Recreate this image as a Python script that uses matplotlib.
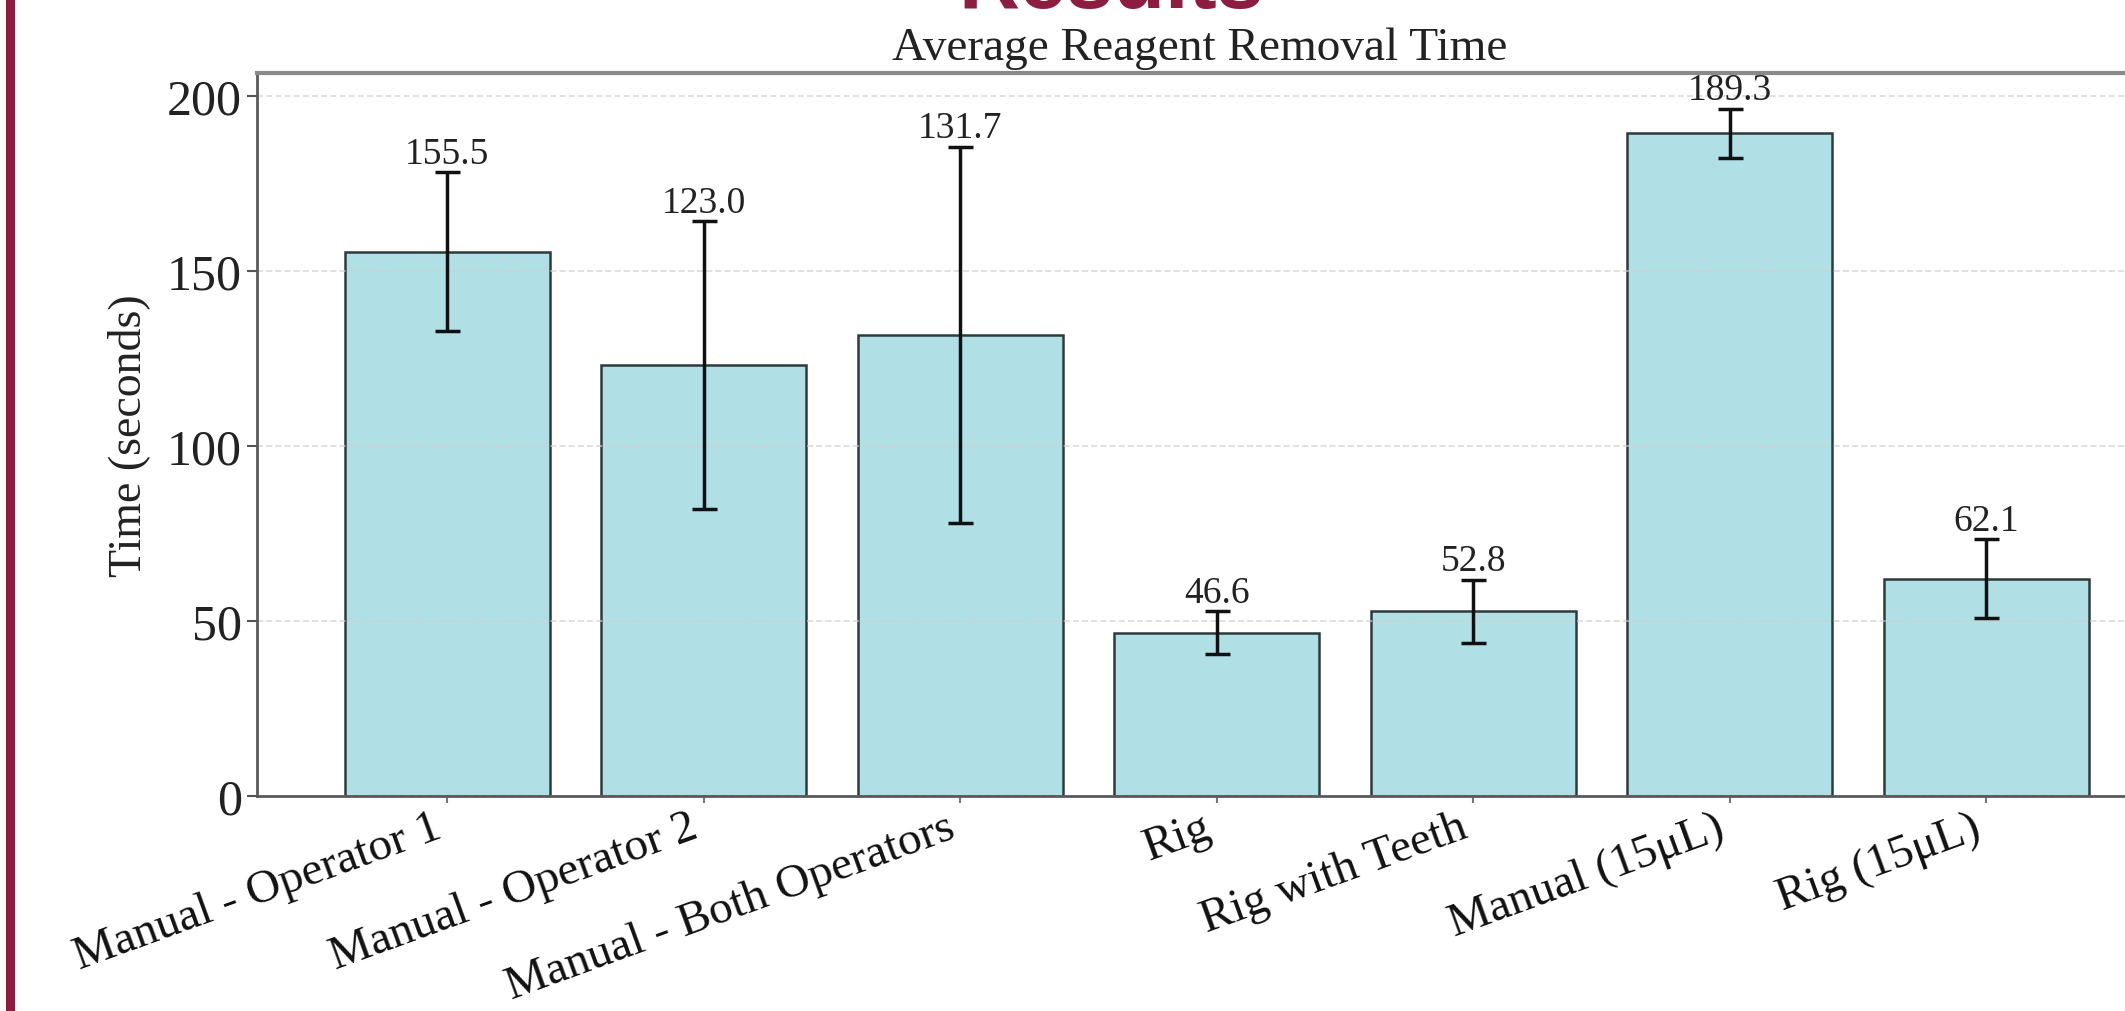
import matplotlib
matplotlib.use('Agg')
import matplotlib.pyplot as plt
from matplotlib.patches import Rectangle

categories = ['Manual - Operator 1', 'Manual - Operator 2', 'Manual - Both Operators',
              'Rig', 'Rig with Teeth', 'Manual (15μL)', 'Rig (15μL)']
means = [155.5, 123.0, 131.7, 46.6, 52.8, 189.3, 62.1]
errors = [22.6, 41.1, 53.7, 6.1, 9.0, 7.0, 11.2]
yticks = [0, 50, 100, 150, 200]

plt.rcParams['font.family'] = ['Liberation Serif', 'DejaVu Serif']

fig = plt.figure(figsize=(21.25, 10.12), dpi=100)
fig.patch.set_facecolor('white')

# poster frame decorations
fig.patches.append(Rectangle((0.0027, 0), 0.0045, 1, transform=fig.transFigure,
                             facecolor='#8c1d40', edgecolor='none', zorder=5))
fig.text(0.523, 0.992, 'Results', color='#8c1d40', fontsize=61, fontweight='bold',
         family=['Liberation Sans', 'DejaVu Sans'], ha='center', va='baseline')

ax = fig.add_axes([0.1211, 0.2125, 0.903, 0.714])
x = list(range(len(categories)))
ax.bar(x, means, width=0.8, color='#b0dfe5', edgecolor='#2e3a3c', linewidth=1.8,
       yerr=errors, capsize=9,
       error_kw=dict(ecolor='#111111', elinewidth=2.5, capthick=2.5))
for xi, m, e in zip(x, means, errors):
    ax.annotate(f'{m:.1f}', xy=(xi, m + e), xytext=(0, 7), textcoords='offset points',
                ha='center', va='baseline', fontsize=27, color='#222222')

ax.set_xlim(-0.74, 6.74)
ax.set_ylim(0, 206.4)
ax.set_yticks(yticks)
ax.set_yticklabels([str(t) for t in yticks], fontsize=36, color='#222222')
ax.set_xticks(x)
ax.set_xticklabels(categories, rotation=20, ha='right', fontsize=34, color='#111111')
ax.tick_params(axis='y', length=7, width=1.5, color='#555555', pad=4)
ax.tick_params(axis='x', length=5, width=1.5, color='#777777', pad=2)

ax.yaxis.grid(True, linestyle=(0, (4, 2)), color='#cfcfcf', linewidth=1.1, alpha=0.8)
ax.set_ylabel('Time (seconds)', fontsize=33, color='#222222', labelpad=12)
ax.set_title('Average Reagent Removal Time', fontsize=34, color='#222222', x=0.491, pad=10)

for side in ['left', 'bottom']:
    ax.spines[side].set_color('#5a5a5a')
    ax.spines[side].set_linewidth(2)
ax.spines['top'].set_color('#8a8a8a')
ax.spines['top'].set_linewidth(3)
ax.spines['right'].set_color('#8a8a8a')
ax.spines['right'].set_linewidth(3)

fig.savefig('out.png', dpi=100)
